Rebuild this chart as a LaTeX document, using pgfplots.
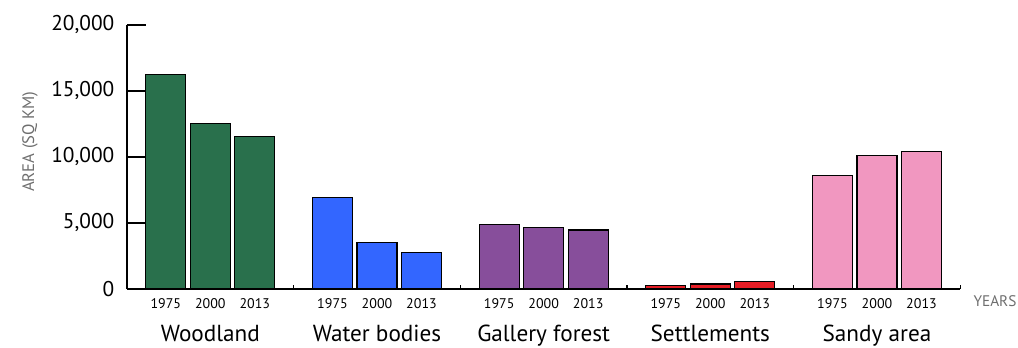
\documentclass[border=0pt]{standalone}
\usepackage{pgfplots}
\pgfplotsset{compat=1.18}
\usepackage{fontspec}
\setmainfont{PT Sans}
\definecolor{wood}{RGB}{41,112,76}
\definecolor{water}{RGB}{51,102,255}
\definecolor{gallery}{RGB}{135,78,155}
\definecolor{settle}{RGB}{230,30,38}
\definecolor{sandy}{RGB}{241,151,192}
\definecolor{lab}{RGB}{110,110,110}
\begin{document}
\begin{tikzpicture}
\path[use as bounding box] (-95.25pt,-44.25pt) rectangle (668.25pt,216.75pt);
\begin{axis}[
    at={(0,0)}, anchor=south west,
    scale only axis,
    width=625pt, height=198pt,
    xmin=-0.5, xmax=4.5,
    ymin=0, ymax=20000,
    axis x line=bottom, axis y line=left,
    axis line style={-, line width=1.1pt},
    tick align=inside,
    major tick length=14pt,
    minor tick length=3pt,
    tick style={black, line width=1.1pt},
    ytick={0,5000,10000,15000,20000},
    yticklabel style={font=\fontsize{16}{18}\selectfont, xshift=-6pt},
    /pgf/number format/.cd, 1000 sep={,}, assume math mode=true, /pgfplots/.cd,
    scaled y ticks=false,
    xtick={-0.267,0,0.267, 0.733,1,1.267, 1.733,2,2.267, 2.733,3,3.267, 3.733,4,4.267},
    xticklabels={1975,2000,2013,1975,2000,2013,1975,2000,2013,1975,2000,2013,1975,2000,2013},
    xtick style={draw=none},
    minor xtick={0.5,1.5,2.5,3.5,4.5},
    minor x tick style={draw=black, yshift=3pt},
    xticklabel style={font=\fontsize{10.5}{12}\selectfont, yshift=10.75pt},
    ybar, bar width=0.24, bar shift=0pt,
    every axis plot/.append style={draw=black, line width=0.8pt},
    clip=false,
]
\addplot[fill=wood] coordinates {(-0.267,16250) (0,12520) (0.267,11560)};
\addplot[fill=water] coordinates {(0.733,6900) (1,3530) (1.267,2780)};
\addplot[fill=gallery] coordinates {(1.733,4870) (2,4670) (2.267,4470)};
\addplot[fill=settle] coordinates {(2.733,300) (3,380) (3.267,560)};
\addplot[fill=sandy] coordinates {(3.733,8590) (4,10130) (4.267,10430)};
\foreach \i/\name in {0/Woodland,1/Water bodies,2/Gallery forest,3/Settlements,4/Sandy area}{
  \edef\temp{\noexpand\node[anchor=base, font=\noexpand\fontsize{17.4}{19}\noexpand\selectfont, yshift=-39.3pt] at (axis cs:\i,0) {\name};}
  \temp
}
\end{axis}
\node[font=\fontsize{11.5}{13}\selectfont, text=lab] at (651pt,-9pt) {YEARS};
\node[font=\fontsize{12.5}{14}\selectfont, text=lab, rotate=90] at (-72.75pt,110.5pt) {AREA (SQ KM)};
\end{tikzpicture}
\end{document}
